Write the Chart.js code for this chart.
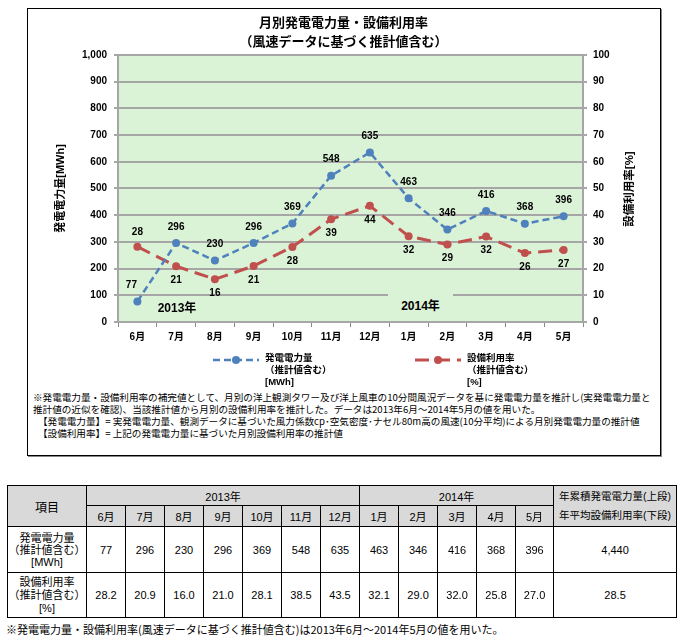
<!DOCTYPE html>
<html lang="ja">
<head>
<meta charset="utf-8">
<script src="https://cdn.jsdelivr.net/npm/chart.js@4"></script>
<style>
  html, body { margin:0; padding:0; background:#fff; width:680px; height:640px; overflow:hidden; }
  body { position:relative; font-family:"Liberation Sans","Noto Sans CJK JP",sans-serif; color:#000; }
  #box { position:absolute; left:27px; top:8px; width:632px; height:446px; border:1px solid #000; box-shadow:1px 1px 0 #888; }
  #c { position:absolute; left:28px; top:9px; }
  .abs { position:absolute; white-space:nowrap; }
  .yr { font:bold 12px "Liberation Sans","Noto Sans CJK JP",sans-serif; text-align:center; }
  .leg { font:bold 9.5px "Liberation Sans","Noto Sans CJK JP",sans-serif; line-height:12px; }
  .note { font:9.6px "Noto Sans CJK JP",sans-serif; line-height:11px; }
  table { position:absolute; left:7px; top:485px; width:669px; border-collapse:collapse; table-layout:fixed; font:11px "Liberation Sans","Noto Sans CJK JP",sans-serif; }
  td { border:1px solid #000; text-align:center; vertical-align:middle; padding:0; overflow:hidden; }
  td.h { background:#D9D9D9; }
  td.lab { font-size:11px; line-height:12px; }
  #foot { position:absolute; left:6px; top:621px; font:11px "Noto Sans CJK JP",sans-serif; white-space:nowrap; }
</style>
</head>
<body>
<div id="box"></div>
<canvas id="c" width="631" height="345"></canvas>
<div id="labels"></div>
<div id="tableHolder"></div>
<div id="foot"></div>
<script>
// ---- data ----
const months = ['6月','7月','8月','9月','10月','11月','12月','1月','2月','3月','4月','5月'];
const yearLabels = ['2013年','2014年'];
const yearSpans = [7, 5];
const energy = [77, 296, 230, 296, 369, 548, 635, 463, 346, 416, 368, 396];
const utilization = [28.2, 20.9, 16.0, 21.0, 28.1, 38.5, 43.5, 32.1, 29.0, 32.0, 25.8, 27.0];
const energyTotal = '4,440';
const utilizationAvg = '28.5';
const chartTitle = ['月別発電電力量・設備利用率', '（風速データに基づく推計値含む）'];
const leftAxisTitle = '発電電力量[MWh]';
const rightAxisTitle = '設備利用率[%]';
const seriesNames = [['発電電力量', '（推計値含む）', '[MWh]'], ['設備利用率', '（推計値含む）', '[%]']];
const noteLines = [
  '※発電電力量・設備利用率の補完値として、月別の洋上観測タワー及び洋上風車の10分間風況データを基に発電電力量を推計し(実発電電力量と',
  '推計値の近似を確認)、当該推計値から月別の設備利用率を推計した。データは2013年6月～2014年5月の値を用いた。',
  '【発電電力量】= 実発電電力量、観測データに基づいた風力係数cp･空気密度･ナセル80m高の風速(10分平均)による月別発電電力量の推計値',
  '【設備利用率】= 上記の発電電力量に基づいた月別設備利用率の推計値'
];
const rowLabels = [['発電電力量', '（推計値含む）', '[MWh]'], ['設備利用率', '（推計値含む）', '[%]']];
const headLabels = ['項目', '年累積発電電力量(上段)', '年平均設備利用率(下段)'];
const footNote = '※発電電力量・設備利用率(風速データに基づく推計値含む)は2013年6月～2014年5月の値を用いた。';

const BLUE = '#4F81BD', RED = '#C0504D', PLOT_BG = 'rgb(218,242,213)', GRID = '#A6A6A6';
const FONT = '"Liberation Sans","Noto Sans CJK JP",sans-serif';

Chart.defaults.font.family = FONT;
Chart.defaults.color = '#000';

const plotBg = {
  id: 'plotBg',
  beforeDraw(chart) {
    const a = chart.chartArea, ctx = chart.ctx;
    ctx.save();
    ctx.fillStyle = PLOT_BG;
    ctx.fillRect(a.left, a.top, a.right - a.left, a.bottom - a.top);
    ctx.restore();
  }
};

const valueLabels = {
  id: 'valueLabels',
  afterDatasetsDraw(chart) {
    const ctx = chart.ctx;
    ctx.save();
    ctx.font = 'bold 10px ' + FONT;
    ctx.fillStyle = '#000';
    ctx.textAlign = 'center';
    ctx.textBaseline = 'middle';
    chart.data.datasets.forEach((ds, di) => {
      chart.getDatasetMeta(di).data.forEach((pt, i) => {
        const v = ds.data[i];
        let dx = 0, dy;
        if (di === 0) { dy = -16; if (i === 0) dx = -6; }
        else { dy = (i === 0) ? -14 : 14; }
        ctx.fillText(di === 0 ? String(v) : String(Math.round(v)), pt.x + dx, pt.y + dy);
      });
    });
    ctx.restore();
  }
};

const chart = new Chart(document.getElementById('c'), {
  type: 'line',
  data: {
    labels: months,
    datasets: [
      { label: seriesNames[0].join(''), data: energy, yAxisID: 'y',
        borderColor: BLUE, backgroundColor: BLUE, borderWidth: 2.5, borderDash: [7, 4],
        pointRadius: 4, pointBackgroundColor: BLUE, pointBorderColor: BLUE, pointBorderWidth: 0, tension: 0 },
      { label: seriesNames[1].join(''), data: utilization, yAxisID: 'y2',
        borderColor: RED, backgroundColor: RED, borderWidth: 3, borderDash: [14, 7],
        pointRadius: 4, pointBackgroundColor: RED, pointBorderColor: RED, pointBorderWidth: 0, tension: 0 }
    ]
  },
  options: {
    responsive: false,
    animation: false,
    devicePixelRatio: 1,
    layout: { padding: 0 },
    plugins: {
      legend: { display: false },
      tooltip: { enabled: false },
      title: {
        display: true, text: chartTitle,
        font: { size: 13, weight: 'bold', lineHeight: 1.46 },
        padding: { top: 5, bottom: 3 }
      }
    },
    scales: {
      x: {
        offset: true,
        grid: { display: true, drawOnChartArea: false, offset: true, tickLength: 5, color: '#888', lineWidth: 1 },
        border: { display: true, color: GRID, width: 2 },
        ticks: { font: { size: 10, weight: 'bold' }, padding: 4, maxRotation: 0, autoSkip: false },
        afterFit(s) { s.height = 32; }
      },
      y: {
        position: 'left', min: 0, max: 1000,
        ticks: { stepSize: 100, font: { size: 10, weight: 'bold' }, padding: 7,
          callback: v => v.toLocaleString('en-US') },
        grid: { color: GRID, lineWidth: 2, tickLength: 4 },
        border: { display: true, color: GRID, width: 2 },
        title: { display: true, text: leftAxisTitle, font: { size: 11, weight: 'bold' }, padding: { top: 26, bottom: 0 } },
        afterFit(s) { s.width = 90; }
      },
      y2: {
        position: 'right', min: 0, max: 100,
        ticks: { stepSize: 10, font: { size: 10, weight: 'bold' }, padding: 6 },
        grid: { drawOnChartArea: false, color: GRID, lineWidth: 2, tickLength: 4 },
        border: { display: true, color: GRID, width: 2 },
        afterFit(s) { s.width = 76; }
      }
    }
  },
  plugins: [plotBg, valueLabels]
});

// ---- overlay text: year labels, right axis title, legend, notes ----
const L = document.getElementById('labels');
function add(html, cls, style) {
  const d = document.createElement('div');
  d.className = 'abs ' + (cls || '');
  d.innerHTML = html;
  Object.assign(d.style, style);
  L.appendChild(d);
  return d;
}
add(yearLabels[0], 'yr', { left: '147px', top: '299px', width: '60px', lineHeight: '18px' });
add(yearLabels[1], 'yr', { left: '388px', top: '292px', width: '65px', lineHeight: '28px', background: PLOT_BG });
add(rightAxisTitle, '', { left: '578px', top: '181px', width: '100px', height: '16px', lineHeight: '16px', textAlign: 'center',
  font: 'bold 11.5px ' + FONT, transform: 'rotate(-90deg)' });

function legendSwatch(color, dash, w) {
  return '<svg width="46" height="10" style="position:absolute;left:0;top:1px">' +
    '<line x1="0" y1="5" x2="46" y2="5" stroke="' + color + '" stroke-width="' + w + '" stroke-dasharray="' + dash + '"/>' +
    '<circle cx="23" cy="5" r="4" fill="' + color + '"/></svg>';
}
const legX = [213, 415];
seriesNames.forEach((lines, k) => {
  const col = k === 0 ? BLUE : RED;
  add(legendSwatch(col, k === 0 ? '7,4' : '14,7', k === 0 ? 2.5 : 3), '', { left: legX[k] + 'px', top: '354px', width: '46px', height: '12px' });
  add(lines.join('<br>'), 'leg', { left: (legX[k] + 52) + 'px', top: '352px' });
});
noteLines.forEach((t, i) => {
  add(t, 'note', { left: (i < 2 ? 33 : 38) + 'px', top: (392 + i * 12) + 'px' });
});

// ---- table ----
const colW = [79].concat(months.map((m, i) => i < 11 ? 39 : 38)).concat([123]);
let h = '<table><colgroup>' + colW.map(w => '<col style="width:' + w + 'px">').join('') + '</colgroup>';
h += '<tr style="height:20px"><td class="h" rowspan="2" style="font-size:12px">' + headLabels[0] + '</td>';
yearLabels.forEach((y, i) => { h += '<td class="h" colspan="' + yearSpans[i] + '">' + y + '</td>'; });
h += '<td class="h" rowspan="2" style="font-size:10.5px;line-height:19px">' + headLabels[1] + '<br>' + headLabels[2] + '</td></tr>';
h += '<tr style="height:21px">' + months.map(m => '<td class="h">' + m + '</td>').join('') + '</tr>';
h += '<tr style="height:46px"><td class="lab">' + rowLabels[0].join('<br>') + '</td>' +
  energy.map(v => '<td>' + v + '</td>').join('') + '<td>' + energyTotal + '</td></tr>';
h += '<tr style="height:45px"><td class="lab" style="line-height:13px">' + rowLabels[1].join('<br>') + '</td>' +
  utilization.map(v => '<td>' + v.toFixed(1) + '</td>').join('') + '<td>' + utilizationAvg + '</td></tr>';
h += '</table>';
document.getElementById('tableHolder').innerHTML = h;
document.getElementById('foot').textContent = footNote;
</script>
</body>
</html>
